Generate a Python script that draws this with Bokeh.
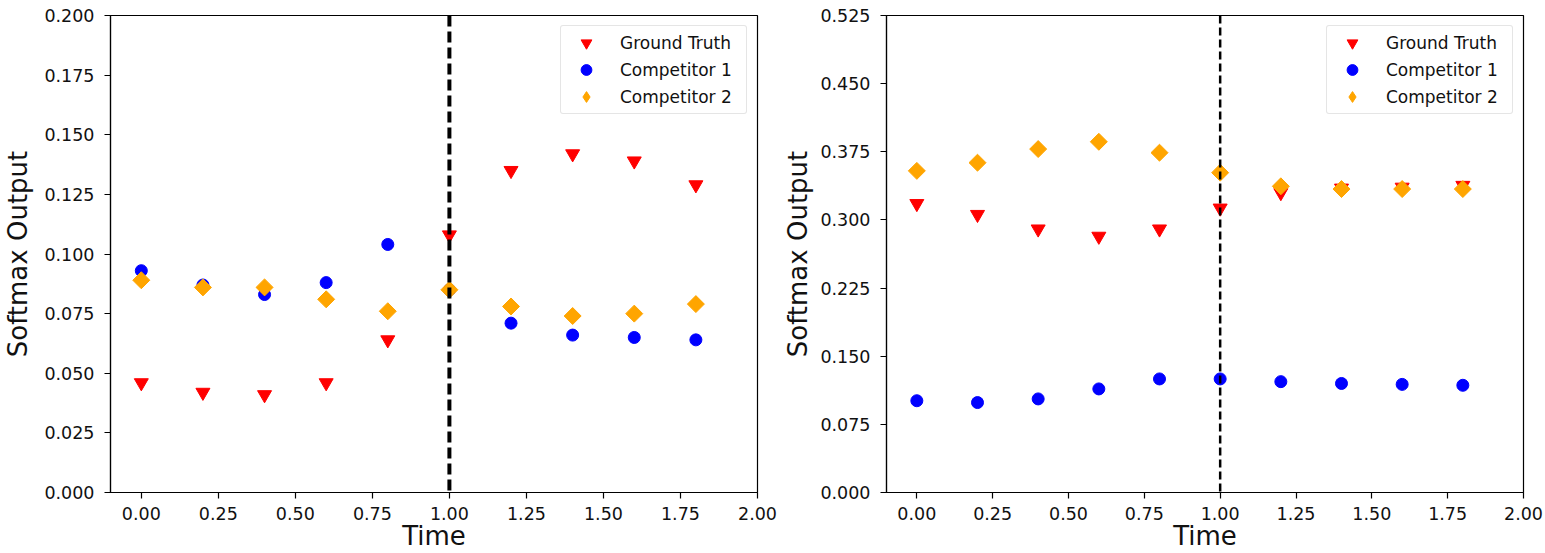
import math
from bokeh.plotting import figure
from bokeh.models import Span, FixedTicker, NumeralTickFormatter, Range1d, Legend, LegendItem
from bokeh.layouts import row
from bokeh.embed import file_html
from bokeh.resources import INLINE

time = [0.0, 0.2, 0.4, 0.6, 0.8, 1.0, 1.2, 1.4, 1.6, 1.8]

# Left panel
left_gt = [0.046, 0.042, 0.041, 0.046, 0.064, 0.108, 0.135, 0.142, 0.139, 0.129]
left_c1 = [0.093, 0.087, 0.083, 0.088, 0.104, 0.085, 0.071, 0.066, 0.065, 0.064]
left_c2 = [0.089, 0.086, 0.086, 0.081, 0.076, 0.085, 0.078, 0.074, 0.075, 0.079]
left_yticks = [0.0, 0.025, 0.05, 0.075, 0.1, 0.125, 0.15, 0.175, 0.2]

# Right panel
right_gt = [0.318, 0.306, 0.290, 0.282, 0.290, 0.313, 0.330, 0.335, 0.336, 0.338]
right_c1 = [0.101, 0.099, 0.103, 0.114, 0.125, 0.125, 0.122, 0.120, 0.119, 0.118]
right_c2 = [0.354, 0.363, 0.378, 0.386, 0.374, 0.352, 0.337, 0.334, 0.334, 0.334]
right_yticks = [0.0, 0.075, 0.15, 0.225, 0.3, 0.375, 0.45, 0.525]

xticks = [0.0, 0.25, 0.5, 0.75, 1.0, 1.25, 1.5, 1.75, 2.0]
labels = ["Ground Truth", "Competitor 1", "Competitor 2"]
FONT = "DejaVu Sans"


def make_panel(gt, c1, c2, yticks, ymax, width, bl, br, dash_w, dash, ylab_standoff):
    p = figure(width=width, height=553, output_backend="svg", toolbar_location=None,
               x_range=Range1d(-0.1, 2.0), y_range=Range1d(0, ymax),
               min_border_left=bl, min_border_right=br, min_border_top=15, min_border_bottom=60)
    p.grid.visible = False
    p.outline_line_color = "black"
    p.outline_line_width = 1.2
    r_gt = p.scatter(time, gt, marker="inverted_triangle", size=14, color="#ff0000")
    r_c1 = p.scatter(time, c1, marker="circle", size=12, color="#0000ff")
    # legend key glyph (diamond); drawn beneath the rotated squares so it is hidden in the plot
    r_c2_key = p.scatter(time, c2, marker="diamond", size=14, color="#ffa500")
    p.scatter(time, c2, marker="square", size=12, angle=math.pi / 4, color="#ffa500")
    p.add_layout(Span(location=1.0, dimension="height", line_color="black",
                      line_width=dash_w, line_dash=dash))
    for ax in (p.xaxis[0], p.yaxis[0]):
        ax.axis_line_color = "black"
        ax.axis_line_width = 1.2
        ax.major_tick_line_color = "black"
        ax.major_tick_in = 0
        ax.major_tick_out = 6
        ax.major_tick_line_width = 1.2
        ax.minor_tick_line_color = None
        ax.major_label_text_font = FONT
        ax.major_label_text_font_size = "17.5px"
        ax.major_label_text_color = "#111111"
        ax.axis_label_text_font = FONT
        ax.axis_label_text_font_size = "26px"
        ax.axis_label_text_font_style = "normal"
        ax.axis_label_text_color = "#111111"
    p.xaxis.ticker = FixedTicker(ticks=xticks)
    p.xaxis.formatter = NumeralTickFormatter(format="0.00")
    p.xaxis.axis_label = "Time"
    p.xaxis.major_label_standoff = 8
    p.xaxis.axis_label_standoff = -2
    p.yaxis.ticker = FixedTicker(ticks=yticks)
    p.yaxis.formatter = NumeralTickFormatter(format="0.000")
    p.yaxis.axis_label = "Softmax Output"
    p.yaxis.major_label_standoff = 10
    p.yaxis.axis_label_standoff = ylab_standoff
    legend = Legend(items=[LegendItem(label=labels[0], renderers=[r_gt]),
                           LegendItem(label=labels[1], renderers=[r_c1]),
                           LegendItem(label=labels[2], renderers=[r_c2_key])],
                    location="top_right")
    legend.label_text_font = FONT
    legend.label_text_font_size = "17px"
    legend.label_text_color = "#111111"
    legend.border_line_color = "#cccccc"
    legend.border_line_width = 1
    legend.border_radius = 3
    legend.background_fill_alpha = 0.8
    legend.margin = 10
    legend.padding = 3
    legend.spacing = 0
    legend.glyph_height = 27
    legend.glyph_width = 44
    legend.label_standoff = 12
    legend.label_height = 27
    legend.label_width = 123
    p.add_layout(legend)
    return p


p1 = make_panel(left_gt, left_c1, left_c2, left_yticks, 0.2, 780, 108, 23, 4, "11 5", 8)
p2 = make_panel(right_gt, right_c1, right_c2, right_yticks, 0.525, 765, 102, 22, 2.5, "8 4", 4)

layout = row(p1, p2, spacing=0)
open("out.html", "w").write(file_html(layout, INLINE))
